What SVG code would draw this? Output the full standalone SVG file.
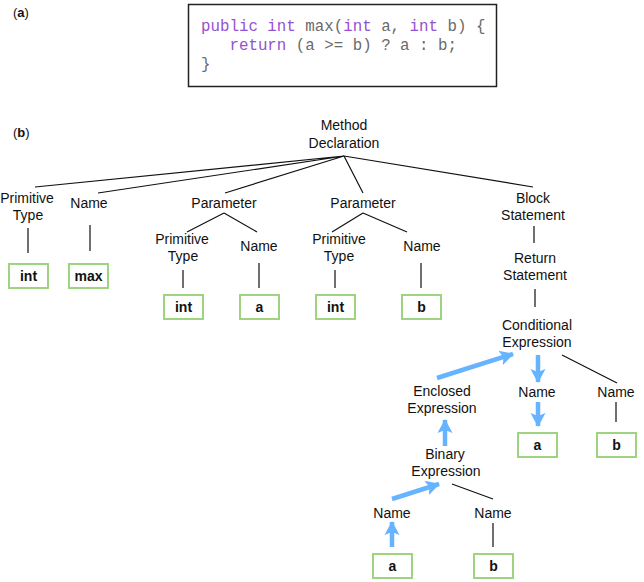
<svg xmlns="http://www.w3.org/2000/svg" width="644" height="582" viewBox="0 0 644 582">
<style>
.t{font-family:"Liberation Sans",Arial,sans-serif;font-size:14px;fill:#111;text-anchor:middle}
.lbl{font-family:"Liberation Sans",Arial,sans-serif;font-size:13px;fill:#111}
.code{font-family:"Liberation Mono","Courier New",monospace;font-size:15.8px;fill:#6a6a6a;white-space:pre}
.kw{fill:#9452d2}
.box{fill:#fff;stroke:#9ed47f;stroke-width:2}
.bt{font-family:"Liberation Sans",Arial,sans-serif;font-size:14px;font-weight:bold;fill:#111;text-anchor:middle}
.ln{stroke:#111;stroke-width:1.2;fill:none}
.ar{stroke:#66b3ff;stroke-width:4.5;fill:none;marker-end:url(#ah)}
</style>
<defs>
<marker id="ah" markerUnits="userSpaceOnUse" markerWidth="16" markerHeight="16" refX="13" refY="7.5" orient="auto" viewBox="0 0 16 15">
<path d="M0,0 L14,7.5 L0,15 L3,7.5 z" fill="#66b3ff"/>
</marker>
</defs>
<rect width="644" height="582" fill="#fff"/>
<g id="label-a"><text class="lbl" x="13" y="17">(<tspan font-weight="bold">a</tspan>)</text></g>
<g id="label-b"><text class="lbl" x="13" y="137">(<tspan font-weight="bold">b</tspan>)</text></g>
<g id="code">
<rect x="188.5" y="4.5" width="308" height="82" fill="#fff" stroke="#222" stroke-width="1.5"/>
<text class="code" x="201" y="31"><tspan class="kw">public int</tspan> max(<tspan class="kw">int</tspan> a, <tspan class="kw">int</tspan> b) {</text>
<text class="code" x="201" y="50">   <tspan class="kw">return</tspan> (a &gt;= b) ? a : b;</text>
<text class="code" x="201" y="69">}</text>
</g>
<g id="connectors">
<path class="ln" d="M344,156 L35,187 M344,156 L98,193 M344,156 L225,193 M344,156 L363,193 M344,156 L533,187"/>
<path class="ln" d="M28,228 V253 M90,225 V251"/>
<path class="ln" d="M224,213 L187,232 M224,213 L257,232 M183,270 V288 M259,263 V288"/>
<path class="ln" d="M363,213 L332,232 M363,213 L407,232 M335,270 V288 M421,263 V288"/>
<path class="ln" d="M534,226 V243 M535,289 V307"/>
<path class="ln" d="M562,355 L617,383 M616,402 V422"/>
<path class="ln" d="M452,484 L493,499 M493,523 V547"/>
<line class="ar" x1="437" y1="378" x2="513" y2="354"/>
<line class="ar" x1="538" y1="355" x2="538" y2="382"/>
<line class="ar" x1="538" y1="402" x2="538" y2="426"/>
<line class="ar" x1="445" y1="446" x2="445" y2="420"/>
<line class="ar" x1="392" y1="499" x2="439" y2="484"/>
<line class="ar" x1="392" y1="547" x2="392" y2="522"/>
</g>
<g id="method-declaration"><text class="t" x="344" y="130">Method</text><text class="t" x="344" y="148">Declaration</text></g>
<g id="primitive-type-1"><text class="t" x="27" y="203">Primitive</text><text class="t" x="28" y="220">Type</text></g>
<g id="int-1"><rect class="box" x="9" y="264" width="39" height="24"/><text class="bt" x="28.5" y="281">int</text></g>
<g id="name-1"><text class="t" x="89" y="208">Name</text></g>
<g id="max"><rect class="box" x="69" y="264" width="39" height="24"/><text class="bt" x="88.5" y="281">max</text></g>
<g id="parameter-1"><text class="t" x="224" y="208">Parameter</text></g>
<g id="primitive-type-2"><text class="t" x="182" y="244">Primitive</text><text class="t" x="183" y="261">Type</text></g>
<g id="int-2"><rect class="box" x="164" y="295" width="39" height="24"/><text class="bt" x="183.5" y="312">int</text></g>
<g id="name-2"><text class="t" x="259" y="251">Name</text></g>
<g id="a-1"><rect class="box" x="240" y="295" width="39" height="24"/><text class="bt" x="259.5" y="312">a</text></g>
<g id="parameter-2"><text class="t" x="363" y="208">Parameter</text></g>
<g id="primitive-type-3"><text class="t" x="339" y="244">Primitive</text><text class="t" x="339" y="261">Type</text></g>
<g id="int-3"><rect class="box" x="316" y="295" width="39" height="24"/><text class="bt" x="335.5" y="312">int</text></g>
<g id="name-3"><text class="t" x="422" y="251">Name</text></g>
<g id="b-1"><rect class="box" x="402" y="295" width="39" height="24"/><text class="bt" x="421.5" y="312">b</text></g>
<g id="block-statement"><text class="t" x="533" y="203">Block</text><text class="t" x="533" y="220">Statement</text></g>
<g id="return-statement"><text class="t" x="535" y="263">Return</text><text class="t" x="535" y="280">Statement</text></g>
<g id="conditional-expression"><text class="t" x="537" y="330">Conditional</text><text class="t" x="537" y="347">Expression</text></g>
<g id="name-4"><text class="t" x="537" y="397">Name</text></g>
<g id="a-2"><rect class="box" x="518" y="433" width="39" height="24"/><text class="bt" x="537.5" y="450">a</text></g>
<g id="name-5"><text class="t" x="616" y="397">Name</text></g>
<g id="b-2"><rect class="box" x="597" y="433" width="39" height="24"/><text class="bt" x="616.5" y="450">b</text></g>
<g id="enclosed-expression"><text class="t" x="442" y="396">Enclosed</text><text class="t" x="442" y="413">Expression</text></g>
<g id="binary-expression"><text class="t" x="445" y="459">Binary</text><text class="t" x="446" y="476">Expression</text></g>
<g id="name-6"><text class="t" x="392" y="518">Name</text></g>
<g id="a-3"><rect class="box" x="373" y="554" width="39" height="24"/><text class="bt" x="392.5" y="571">a</text></g>
<g id="name-7"><text class="t" x="493" y="518">Name</text></g>
<g id="b-3"><rect class="box" x="474" y="554" width="39" height="24"/><text class="bt" x="493.5" y="571">b</text></g>
</svg>
